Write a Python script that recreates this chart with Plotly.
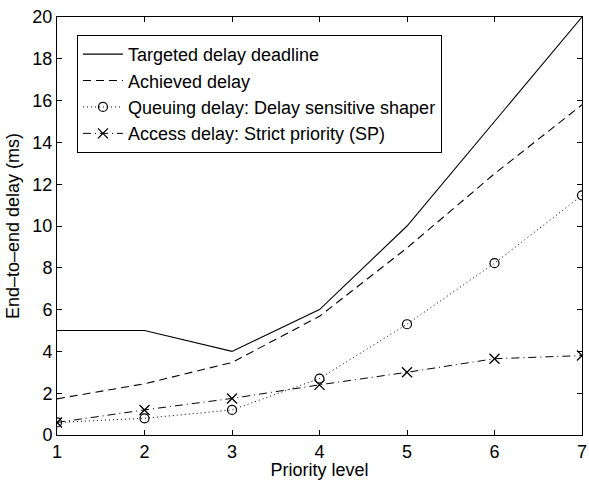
import plotly.graph_objects as go

priority = [1, 2, 3, 4, 5, 6, 7]
targeted = [5, 5, 4, 6, 10, 15, 20]
achieved = [1.73, 2.45, 3.47, 5.68, 8.95, 12.5, 15.8]
queuing = [0.6, 0.8, 1.2, 2.7, 5.3, 8.22, 11.47]
access = [0.6, 1.2, 1.75, 2.4, 3.0, 3.65, 3.8]
y_ticks = list(range(0, 21, 2))

names = ["Targeted delay deadline", "Achieved delay",
         "Queuing delay: Delay sensitive shaper", "Access delay: Strict priority (SP)"]

FONT = "Liberation Sans, Arial, sans-serif"
FS = 18

fig = go.Figure()
fig.add_trace(go.Scatter(x=priority, y=targeted, name=names[0], mode="lines",
                         line=dict(color="black", width=1.1), legendgroup="a"))
fig.add_trace(go.Scatter(x=priority, y=achieved, name=names[1], mode="lines",
                         line=dict(color="black", width=1.1, dash="8px,5px"), legendgroup="b"))
fig.add_trace(go.Scatter(x=priority, y=queuing, name=names[2], mode="lines+markers",
                         line=dict(color="black", width=1, dash="1px,3px"),
                         marker=dict(symbol="circle-open", size=9, color="black", line=dict(width=1.2)),
                         legendgroup="c"))
fig.add_trace(go.Scatter(x=priority, y=access, name=names[3], mode="lines+markers",
                         line=dict(color="black", width=1, dash="8px,4px,1px,4px"),
                         marker=dict(symbol="x-thin-open", size=10, color="black",
                                     line=dict(width=1.3, color="black")),
                         legendgroup="d"))

axis_common = dict(showline=True, linecolor="black", linewidth=1, mirror="ticks",
                   ticks="inside", ticklen=5, tickcolor="black", showgrid=False, zeroline=False,
                   tickfont=dict(family=FONT, size=FS, color="black"))

fig.update_layout(
    width=589, height=480,
    margin=dict(l=57, r=2, t=17, b=45),
    paper_bgcolor="white", plot_bgcolor="white",
    font=dict(family=FONT, size=FS, color="black"),
    xaxis=dict(range=[1, 7], tickvals=priority, ticklabeloverflow="allow",
               title=dict(text="Priority level", standoff=2, font=dict(family=FONT, size=FS)),
               **axis_common),
    yaxis=dict(range=[0, 20], tickvals=y_ticks,
               title=dict(text="End–to–end delay (ms)", standoff=8, font=dict(family=FONT, size=FS)),
               **axis_common),
    legend=dict(x=0.038, y=0.957, xanchor="left", yanchor="top",
                bgcolor="white", bordercolor="black", borderwidth=1,
                font=dict(family=FONT, size=FS, color="black"),
                tracegroupgap=0, itemwidth=40),
    showlegend=True,
)

fig.write_html("out.html")
